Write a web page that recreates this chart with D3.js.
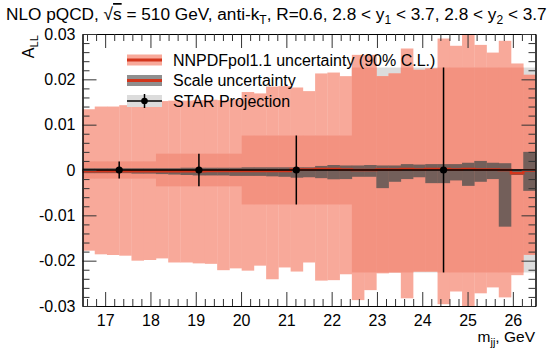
<!DOCTYPE html>
<html>
<head>
<meta charset="utf-8">
<script src="https://cdn.jsdelivr.net/npm/d3@7"></script>
<style>
body { margin: 0; background: #fff; }
svg text { font-family: "Liberation Sans", Arial, Helvetica, sans-serif; fill: #000; }
.axis path { stroke: #000; stroke-width: 1; }
.axis line { stroke: #333; stroke-width: 1; }
</style>
</head>
<body>
<script>
var width = 553, height = 351;
var plot = {left: 82.5, right: 535.5, top: 34, bottom: 306};

// 37 equal mass bins, 16.5 - 26.5 GeV
var xMin = 16.5, xMax = 26.5, nBins = 37;

// all asymmetries below are in units of 1e-3
var nnpdfHi = [13.4, 14.0, 14.0, 14.3, 14.9, 15.1, 15.2, 15.3, 15.3, 15.4, 15.5, 15.4, 15.6,
    17.2, 16.9, 18.4, 18.5, 18.2, 17.4, 21.3, 21.5, 20.7, 25.4, 25.4, 20.7, 21.3, 26.8,
    22.1, 22.4, 29.0, 27.4, 31.0, 27.6, 25.9, 28.5, 23.5, 21.0];
var nnpdfLo = [-17.8, -18.6, -18.75, -18.9, -20.0, -19.85, -19.5, -20.4, -20.4, -20.6, -20.7,
    -22.1, -21.7, -22.2, -21.1, -24.1, -21.5, -22.4, -20.4, -24.4, -24.3, -23.0, -28.7,
    -26.5, -22.8, -22.6, -28.3, -22.4, -22.4, -29.6, -26.8, -31.0, -27.2, -25.9, -28.1,
    -23.2, -18.7];
var scaleHi = [0.4, 0.4, 0.4, 0.4, 0.4, 0.4, 0.4, 0.4, 0.5, 0.5, 0.5, 0.5, 0.5, 0.6, 0.6, 0.6,
    0.6, 0.6, 0.6, 0.9, 1.1, 1.0, 1.0, 1.1, 1.0, 1.0, 1.3, 1.2, 1.3, 1.3, 1.3, 1.6, 2.0, 1.6,
    1.5, 0.2, 4.0];
var scaleLo = [-0.7, -0.7, -0.7, -0.7, -0.8, -0.8, -0.9, -1.0, -1.1, -1.2, -1.2, -1.2, -1.3,
    -1.3, -1.3, -1.4, -1.5, -1.7, -1.6, -1.8, -2.05, -2.0, -1.5, -1.5, -4.0, -2.6, -2.0, -1.6,
    -2.9, -2.9, -2.3, -3.5, -2.6, -2.0, -12.5, -1.1, -4.6];
var central = [-0.25, -0.25, -0.25, -0.25, -0.25, -0.25, -0.25, -0.25, -0.25, -0.25, -0.2,
    -0.2, -0.2, -0.2, -0.2, -0.2, -0.2, 0.1, 0.1, 0.2, 0.2, 0.1, 0.0, 0.0, 0.1, 0.1, 0.2, 0.1,
    0.2, 0.2, 0.1, 0.2, 0.1, 0.1, 0.0, -0.7, -0.1];

var starX = [17.31, 19.07, 21.22, 24.47];
var starErr = [1.9, 3.6, 7.6, 22.6];
var starFirstBin = [0, 6, 13, 22];
var starLastBin = [6, 13, 22, 37];

var xTicks = [17, 18, 19, 20, 21, 22, 23, 24, 25, 26];
var yTicks = [-30, -20, -10, 0, 10, 20, 30];
var yTickLabels = ["-0.03", "-0.02", "-0.01", "0", "0.01", "0.02", "0.03"];

var legendLabels = ["NNPDFpol1.1 uncertainty (90% C.L.)", "Scale uncertainty", "STAR Projection"];

var colors = {
    band: "#f8a99a",
    bandDark: "#f39280",
    box: "#dcdcdc",
    scale: "#735f5a",
    scaleLegend: "#8f8f8f",
    line: "#d3351c"
};

var binW = (xMax - xMin) / nBins;
var bins = d3.range(nBins).map(function(i) {
    return {i: i, x0: xMin + i * binW, x1: xMin + (i + 1) * binW,
        hi: nnpdfHi[i], lo: nnpdfLo[i], sHi: scaleHi[i], sLo: scaleLo[i], c: central[i]};
});
var boxes = starX.map(function(d, k) {
    return {x: d, err: starErr[k], first: starFirstBin[k], last: starLastBin[k],
        x0: xMin + starFirstBin[k] * binW, x1: xMin + starLastBin[k] * binW};
});
function boxOf(i) {
    return boxes.filter(function(b) { return i >= b.first && i < b.last; })[0];
}

var x = d3.scaleLinear().domain([xMin, xMax]).range([plot.left, plot.right]);
var y = d3.scaleLinear().domain([-30, 30]).range([plot.bottom, plot.top]);

var svg = d3.select("body").append("svg")
    .attr("width", width)
    .attr("height", height);

svg.append("defs").append("clipPath")
    .attr("id", "clip")
    .append("rect")
    .attr("x", plot.left).attr("y", plot.top)
    .attr("width", plot.right - plot.left)
    .attr("height", plot.bottom - plot.top);

var g = svg.append("g").attr("clip-path", "url(#clip)");

// STAR boxes (seen as light grey where they leave the PDF band)
g.selectAll(".box")
    .data(boxes)
    .enter()
    .append("rect")
    .attr("x", function(d) { return x(d.x0); })
    .attr("width", function(d) { return x(d.x1) - x(d.x0); })
    .attr("y", function(d) { return y(d.err); })
    .attr("height", function(d) { return y(-d.err) - y(d.err); })
    .attr("fill", colors.box);

// NNPDF band
g.selectAll(".band")
    .data(bins)
    .enter()
    .append("rect")
    .attr("x", function(d) { return x(d.x0); })
    .attr("width", function(d) { return x(d.x1) - x(d.x0) + 0.3; })
    .attr("y", function(d) { return y(d.hi); })
    .attr("height", function(d) { return y(d.lo) - y(d.hi); })
    .attr("fill", colors.band);

// band and STAR box overlap
g.selectAll(".overlap")
    .data(bins)
    .enter()
    .append("rect")
    .attr("x", function(d) { return x(d.x0); })
    .attr("width", function(d) { return x(d.x1) - x(d.x0) + 0.3; })
    .attr("y", function(d) { return y(Math.min(d.hi, boxOf(d.i).err)); })
    .attr("height", function(d) {
        var b = boxOf(d.i);
        return y(Math.max(d.lo, -b.err)) - y(Math.min(d.hi, b.err));
    })
    .attr("fill", colors.bandDark);

// scale uncertainty
g.selectAll(".scale")
    .data(bins)
    .enter()
    .append("rect")
    .attr("x", function(d) { return x(d.x0); })
    .attr("width", function(d) { return x(d.x1) - x(d.x0) + 0.3; })
    .attr("y", function(d) { return y(d.sHi); })
    .attr("height", function(d) { return y(d.sLo) - y(d.sHi); })
    .attr("fill", colors.scale);

// central value
var step = d3.line()
    .x(function(d) { return x(d[0]); })
    .y(function(d) { return y(d[1]); });
var stepPts = [];
bins.forEach(function(d) { stepPts.push([d.x0, d.c]); stepPts.push([d.x1, d.c]); });
g.append("path")
    .attr("d", step(stepPts))
    .attr("fill", "none")
    .attr("stroke", colors.line)
    .attr("stroke-width", 2.5);

// zero line
g.append("line")
    .attr("x1", x(xMin)).attr("x2", x(xMax))
    .attr("y1", y(0)).attr("y2", y(0))
    .attr("stroke", "#000")
    .attr("stroke-width", 1.5);

// STAR projection points
g.selectAll(".err")
    .data(boxes)
    .enter()
    .append("line")
    .attr("x1", function(d) { return x(d.x); })
    .attr("x2", function(d) { return x(d.x); })
    .attr("y1", function(d) { return y(d.err); })
    .attr("y2", function(d) { return y(-d.err); })
    .attr("stroke", "#000")
    .attr("stroke-width", 1.5);
g.selectAll(".dot")
    .data(boxes)
    .enter()
    .append("circle")
    .attr("cx", function(d) { return x(d.x); })
    .attr("cy", y(0))
    .attr("r", 3.6)
    .attr("fill", "#000");

// axes, ticks inside on all four sides
function minorX() {
    return d3.range(166, 266, 2).filter(function(v) { return v % 10 != 0; })
        .map(function(v) { return v / 10; });
}
function minorY() {
    return d3.range(-28, 30, 2).filter(function(v) { return v % 10 != 0; });
}

svg.append("g").attr("class", "axis")
    .attr("transform", "translate(0," + plot.bottom + ")")
    .call(d3.axisBottom(x).tickValues(xTicks).tickSize(-14).tickSizeOuter(0).tickPadding(9)
        .tickFormat(d3.format("d")))
    .selectAll("text").attr("font-size", 16).attr("font-family", "Liberation Sans, Arial");
svg.append("g").attr("class", "axis")
    .attr("transform", "translate(0," + plot.bottom + ")")
    .call(d3.axisBottom(x).tickValues(minorX()).tickSize(-7).tickSizeOuter(0).tickFormat(""));
svg.append("g").attr("class", "axis")
    .attr("transform", "translate(0," + plot.top + ")")
    .call(d3.axisTop(x).tickValues(xTicks).tickSize(-14).tickSizeOuter(0).tickFormat(""));
svg.append("g").attr("class", "axis")
    .attr("transform", "translate(0," + plot.top + ")")
    .call(d3.axisTop(x).tickValues(minorX()).tickSize(-7).tickSizeOuter(0).tickFormat(""));

svg.append("g").attr("class", "axis")
    .attr("transform", "translate(" + plot.left + ",0)")
    .call(d3.axisLeft(y).tickValues(yTicks).tickSize(-14).tickSizeOuter(0).tickPadding(7)
        .tickFormat(function(d, i) { return yTickLabels[i]; }))
    .selectAll("text").attr("font-size", 16).attr("font-family", "Liberation Sans, Arial");
svg.append("g").attr("class", "axis")
    .attr("transform", "translate(" + plot.left + ",0)")
    .call(d3.axisLeft(y).tickValues(minorY()).tickSize(-7).tickSizeOuter(0).tickFormat(""));
svg.append("g").attr("class", "axis")
    .attr("transform", "translate(" + plot.right + ",0)")
    .call(d3.axisRight(y).tickValues(yTicks).tickSize(-14).tickSizeOuter(0).tickFormat(""));
svg.append("g").attr("class", "axis")
    .attr("transform", "translate(" + plot.right + ",0)")
    .call(d3.axisRight(y).tickValues(minorY()).tickSize(-7).tickSizeOuter(0).tickFormat(""));

// legend
var leg = svg.append("g").attr("transform", "translate(127,60)");
var rowH = 20.5, symW = 35;
legendLabels.forEach(function(label, k) {
    var row = leg.append("g").attr("transform", "translate(0," + (k * rowH) + ")");
    if (k == 0) {
        row.append("rect").attr("x", 0).attr("y", -5.5).attr("width", symW).attr("height", 11)
            .attr("fill", colors.band);
        row.append("rect").attr("x", 0).attr("y", -1.5).attr("width", symW).attr("height", 3)
            .attr("fill", colors.line);
    } else if (k == 1) {
        row.append("rect").attr("x", 0).attr("y", -5.5).attr("width", symW).attr("height", 11)
            .attr("fill", colors.scaleLegend);
        row.append("rect").attr("x", 0).attr("y", -1.5).attr("width", symW).attr("height", 3)
            .attr("fill", colors.line);
    } else {
        row.append("rect").attr("x", 0).attr("y", -6).attr("width", symW).attr("height", 12)
            .attr("fill", colors.box);
        row.append("line").attr("x1", 0).attr("x2", symW).attr("y1", 0).attr("y2", 0)
            .attr("stroke", "#000").attr("stroke-width", 1.5);
        row.append("line").attr("x1", symW / 2).attr("x2", symW / 2).attr("y1", -7).attr("y2", 7)
            .attr("stroke", "#000").attr("stroke-width", 1.5);
        row.append("circle").attr("cx", symW / 2).attr("cy", 0).attr("r", 3.3).attr("fill", "#000");
    }
    row.append("text")
        .attr("x", 46)
        .attr("y", 0)
        .attr("dy", "0.36em")
        .attr("font-size", 16)
        .text(label);
});

// title
var title = svg.append("text")
    .attr("x", 6)
    .attr("y", 20)
    .attr("font-size", 15);
title.append("tspan").text("NLO pQCD, \u221A");
title.append("tspan").style("text-decoration", "overline").text("s");
title.append("tspan").text(" = 510 GeV, anti-k");
title.append("tspan").attr("dy", 4).attr("font-size", "0.7em").text("T");
title.append("tspan").attr("dy", -4).text(", R=0.6, 2.8 < y");
title.append("tspan").attr("dy", 4).attr("font-size", "0.7em").text("1");
title.append("tspan").attr("dy", -4).text(" < 3.7, 2.8 < y");
title.append("tspan").attr("dy", 4).attr("font-size", "0.7em").text("2");
title.append("tspan").attr("dy", -4).text(" < 3.7");
var tw = title.node().getComputedTextLength();
title.attr("font-size", 15 * 541 / tw);

// axis titles
var yTitle = svg.append("text")
    .attr("transform", "translate(34,35) rotate(-90)")
    .attr("text-anchor", "end")
    .attr("font-size", 16);
yTitle.append("tspan").text("A");
yTitle.append("tspan").attr("dy", 4).attr("font-size", "0.7em").text("LL");

var xTitle = svg.append("text")
    .attr("x", 535)
    .attr("y", 342)
    .attr("text-anchor", "end")
    .attr("font-size", 15.5);
xTitle.append("tspan").text("m");
xTitle.append("tspan").attr("dy", 3.5).attr("font-size", "0.7em").text("jj");
xTitle.append("tspan").attr("dy", -3.5).text(", GeV");
</script>
</body>
</html>
